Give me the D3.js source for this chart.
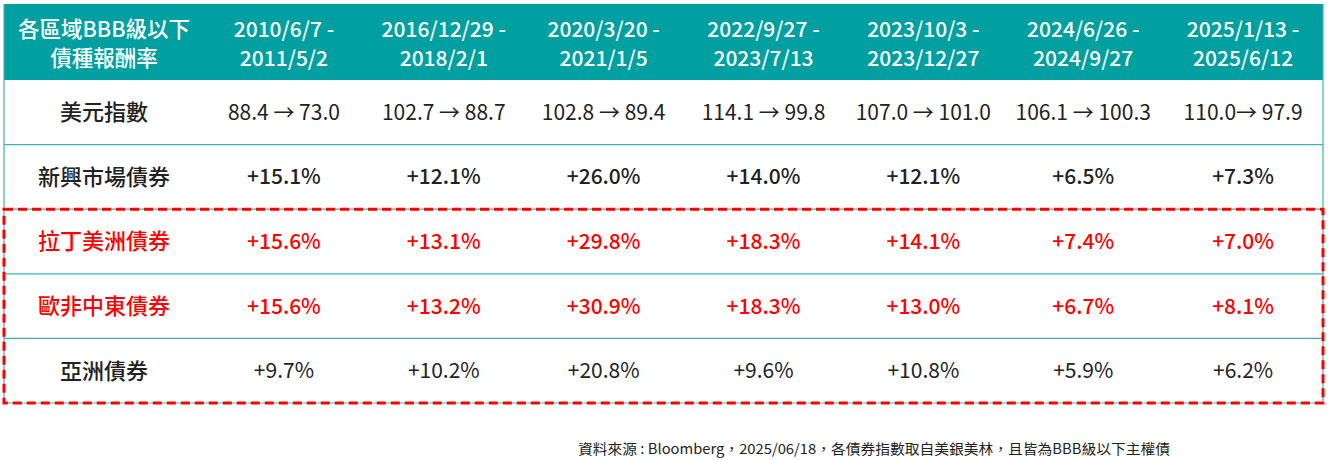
<!DOCTYPE html>
<html><head><meta charset="utf-8">
<script src="https://cdn.jsdelivr.net/npm/d3@7"></script>
<style>body{margin:0;background:#fff}svg{display:block}text{font-family:"Noto Sans CJK TC","Noto Sans",sans-serif}</style>
</head><body><svg id="c" width="1329" height="460"></svg>
<script>
const headerTitle = ["各區域BBB級以下", "債種報酬率"];
const periodStart = ["2010/6/7", "2016/12/29", "2020/3/20", "2022/9/27", "2023/10/3", "2024/6/26", "2025/1/13"];
const periodEnd = ["2011/5/2", "2018/2/1", "2021/1/5", "2023/7/13", "2023/12/27", "2024/9/27", "2025/6/12"];
const rowNames = ["美元指數", "新興市場債券", "拉丁美洲債券", "歐非中東債券", "亞洲債券"];
const dxyLabels = ["88.4 → 73.0", "102.7 → 88.7", "102.8 → 89.4", "114.1 → 99.8", "107.0 → 101.0", "106.1 → 100.3", "110.0→ 97.9"];
const emReturns = [15.1, 12.1, 26.0, 14.0, 12.1, 6.5, 7.3];
const latamReturns = [15.6, 13.1, 29.8, 18.3, 14.1, 7.4, 7.0];
const emeaReturns = [15.6, 13.2, 30.9, 18.3, 13.0, 6.7, 8.1];
const asiaReturns = [9.7, 10.2, 20.8, 9.6, 10.8, 5.9, 6.2];
const footnote = "資料來源 : Bloomberg，2025/06/18，各債券指數取自美銀美林，且皆為BBB級以下主權債";

(function () {
const svg = d3.select("#c");
const teal = "#00A0A0";
const L = 4, R = 1323, firstW = 200, T = 4, headH = 76, B = 403;
const x = d3.scaleBand().domain(d3.range(periodStart.length)).range([L + firstW, R]);
const y = d3.scaleBand().domain(rowNames).range([T + headH, B]);

// header
svg.append("rect").attr("x", L).attr("y", T).attr("width", R - L).attr("height", headH).attr("fill", teal);
const hdr = svg.append("g").attr("fill", "#fff").attr("font-size", 21).attr("font-weight", 500).attr("text-anchor", "middle");
const l1 = T + 25, l2 = T + 54;
hdr.append("text").attr("x", L + firstW / 2).attr("y", l1).attr("dy", "0.36em").attr("font-size", 21.5).text(headerTitle[0]);
hdr.append("text").attr("x", L + firstW / 2).attr("y", l2).attr("dy", "0.36em").attr("font-size", 21.5).text(headerTitle[1]);
periodStart.forEach((s, i) => {
  hdr.append("text").attr("x", x(i) + x.bandwidth() / 2).attr("y", l1).attr("dy", "0.36em").text(s + " -");
  hdr.append("text").attr("x", x(i) + x.bandwidth() / 2).attr("y", l2).attr("dy", "0.36em").text(periodEnd[i]);
});

// grid lines
const grid = svg.append("g").attr("stroke", "#3DB3B3").attr("stroke-width", 1.2);
rowNames.forEach(r => {
  grid.append("line").attr("x1", L).attr("x2", R).attr("y1", y(r) + y.bandwidth()).attr("y2", y(r) + y.bandwidth());
});
grid.append("line").attr("x1", L).attr("x2", L).attr("y1", T).attr("y2", B);
grid.append("line").attr("x1", R).attr("x2", R).attr("y1", T).attr("y2", B);

const fmt = v => "+" + d3.format(".1f")(v) + "%";
const rows = [
  {name: rowNames[0], vals: dxyLabels, color: "#222", w: 400, lw: 500},
  {name: rowNames[1], vals: emReturns.map(fmt), color: "#222", w: 500, lw: 500},
  {name: rowNames[2], vals: latamReturns.map(fmt), color: "#FF0000", w: 500, lw: 500},
  {name: rowNames[3], vals: emeaReturns.map(fmt), color: "#FF0000", w: 500, lw: 500},
  {name: rowNames[4], vals: asiaReturns.map(fmt), color: "#222", w: 400, lw: 500}
];
rows.forEach(r => {
  const cy = y(r.name) + y.bandwidth() / 2;
  const g = svg.append("g").attr("fill", r.color).attr("text-anchor", "middle");
  g.append("text").attr("x", L + firstW / 2).attr("y", cy).attr("dy", "0.36em").attr("font-size", 22).attr("font-weight", r.lw).text(r.name);
  r.vals.forEach((v, i) => {
    g.append("text").attr("x", x(i) + x.bandwidth() / 2).attr("y", cy).attr("dy", "0.36em").attr("font-size", 21).attr("font-weight", r.w).text(v);
  });
});

// dashed highlight
const y0 = y(rowNames[2]);
svg.append("rect").attr("x", L).attr("y", y0).attr("width", R - L).attr("height", B - y0)
  .attr("fill", "none").attr("stroke", "#FF0000").attr("stroke-width", 3).attr("stroke-dasharray", "9,5");

svg.append("text").attr("x", 578).attr("y", 449).attr("dy", "0.36em").attr("font-size", 14).attr("fill", "#222")
  .attr("textLength", 592).attr("lengthAdjust", "spacingAndGlyphs").text(footnote);
})();
</script></body></html>
